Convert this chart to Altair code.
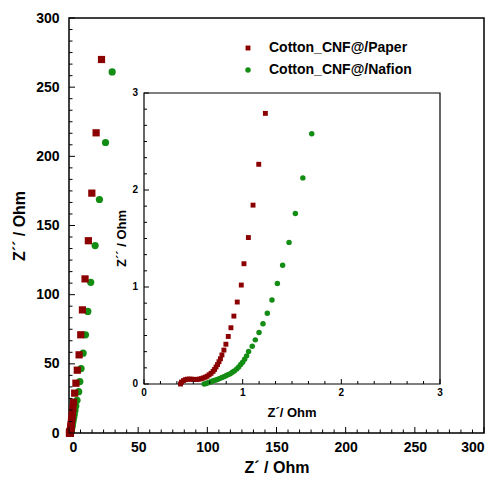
import altair as alt
import pandas as pd

# ---------------- data ----------------
series_names = ["Cotton_CNF@/Paper", "Cotton_CNF@/Nafion"]
series_colors = ["#8b0000", "#138d13"]
series_shapes = ["square", "circle"]

paper_zr = [0.37, 0.38, 0.40, 0.42, 0.44, 0.46, 0.48, 0.50, 0.52, 0.54,
            0.56, 0.58, 0.60, 0.62, 0.64, 0.66, 0.68, 0.70, 0.715, 0.73,
            0.745, 0.76, 0.775, 0.79, 0.81, 0.83, 0.854, 0.881, 0.911, 0.945,
            0.986, 1.013, 1.058, 1.105, 1.163, 1.23, 1.28, 1.36, 1.47, 1.60,
            1.77, 1.97, 2.20, 2.50, 2.85, 3.30, 4.1, 5.0, 6.0, 7.3,
            8.5, 9.7, 11.6, 14.0, 16.5, 19.6, 23.5]
paper_zi = [0.0, 0.02, 0.035, 0.045, 0.05, 0.05, 0.05, 0.048, 0.047, 0.048,
            0.05, 0.055, 0.062, 0.07, 0.08, 0.095, 0.11, 0.13, 0.15, 0.175,
            0.2, 0.23, 0.26, 0.30, 0.35, 0.41, 0.49, 0.58, 0.70, 0.845,
            1.02, 1.24, 1.51, 1.844, 2.265, 2.79, 3.43, 4.2, 5.2, 6.4,
            7.9, 9.7, 11.9, 14.7, 18.0, 22.2, 28.8, 36.0, 45.4, 56.5,
            71.0, 89.0, 111.4, 139.0, 173.4, 217.0, 270.0]

nafion_zr = [0.61, 0.63, 0.65, 0.67, 0.69, 0.71, 0.73, 0.75, 0.77, 0.79,
             0.81, 0.83, 0.85, 0.874, 0.895, 0.915, 0.94, 0.96, 0.98, 1.00,
             1.02, 1.04, 1.06, 1.097, 1.128, 1.166, 1.206, 1.25, 1.297, 1.352,
             1.405, 1.47, 1.534, 1.61, 1.70, 1.80, 1.93, 2.07, 2.25, 2.45,
             2.70, 3.0, 3.4, 3.8, 4.3, 4.9, 5.8, 7.0, 7.8, 8.7,
             10.2, 11.9, 13.6, 15.7, 18.9, 22.0, 26.4, 31.2]
nafion_zi = [0.0, 0.005, 0.012, 0.02, 0.028, 0.035, 0.042, 0.05, 0.058, 0.067,
             0.076, 0.085, 0.095, 0.105, 0.12, 0.135, 0.155, 0.175, 0.2, 0.225,
             0.255, 0.29, 0.335, 0.39, 0.455, 0.53, 0.62, 0.73, 0.865, 1.037,
             1.225, 1.46, 1.757, 2.125, 2.58, 3.1, 3.75, 4.5, 5.4, 6.5,
             7.8, 9.4, 11.3, 13.6, 16.3, 19.6, 23.6, 29.9, 37.2, 46.6,
             57.7, 71.0, 87.9, 108.9, 135.5, 168.8, 210.0, 261.0]

main_major = [0, 50, 100, 150, 200, 250, 300]
main_minor = [m + k * 50 / 6 for m in main_major[:-1] for k in range(1, 6)]
inset_major = [0, 1, 2, 3]
inset_minor = [m + k / 6 for m in inset_major[:-1] for k in range(1, 6)]

# ---------------- layout constants ----------------
FONT = "Liberation Sans"
W = H = 415
IL, IR, IT, IB = 75, 371, 75, 366   # inset box inside the main plot (px)
IMAX = 3.0

ppx = (IR - IL) / IMAX
ppy = (IB - IT) / IMAX
inset_xdom = [-IL / ppx, IMAX + (W - IR) / ppx]
inset_ydom = [-(H - IB) / ppy, IMAX + IT / ppy]

df = pd.concat([
    pd.DataFrame({"zr": nafion_zr, "zi": nafion_zi, "series": series_names[1]}),
    pd.DataFrame({"zr": paper_zr, "zi": paper_zi, "series": series_names[0]}),
], ignore_index=True)

main_x = alt.Scale(domain=[0, 300], nice=False, zero=False)
main_y = alt.Scale(domain=[0, 300], nice=False, zero=False)
ins_x = alt.Scale(domain=inset_xdom, nice=False, zero=False)
ins_y = alt.Scale(domain=inset_ydom, nice=False, zero=False)

leg = alt.Legend(title=None, orient="none", legendX=172, legendY=23,
                 labelFont=FONT, labelFontWeight="bold", labelFontSize=14,
                 labelColor="black", symbolSize=60, labelOffset=14,
                 rowPadding=8, padding=0, symbolStrokeWidth=0)
color = alt.Color("series:N", scale=alt.Scale(domain=series_names, range=series_colors), legend=leg)
shape = alt.Shape("series:N", scale=alt.Scale(domain=series_names, range=series_shapes), legend=leg)

axis_common = dict(ticks=False, tickSize=0, domain=False, grid=False,
                   labelFont=FONT, labelFontWeight="bold", labelFontSize=14,
                   labelColor="black", titleFont=FONT, titleFontWeight="bold",
                   titleFontSize=16, titleColor="black")
x_axis = alt.Axis(values=main_major, title="Z´ / Ohm", labelPadding=7,
                  titlePadding=5, **axis_common)
y_axis = alt.Axis(values=main_major, title="Z´´ / Ohm", labelPadding=10,
                  titlePadding=8, **axis_common)

base = alt.Chart(df)

main_pts = base.mark_point(filled=True, size=52, opacity=1).encode(
    x=alt.X("zr:Q", scale=main_x, axis=x_axis, title="Z´ / Ohm"),
    y=alt.Y("zi:Q", scale=main_y, axis=y_axis, title="Z´´ / Ohm"),
    color=color, shape=shape,
)

def xticks(vals, scale, ypix, length, axis=None, title=None):
    enc_x = alt.X("v:Q", scale=scale, axis=axis, title=title) if axis is not None else alt.X("v:Q", scale=scale, axis=None)
    return alt.Chart(pd.DataFrame({"v": vals})).mark_rule(color="black", strokeWidth=1).encode(
        x=enc_x, y=alt.value(ypix), y2=alt.value(ypix - length))

def yticks(vals, scale, xpix, length, axis=None, title=None):
    enc_y = alt.Y("v:Q", scale=scale, axis=axis, title=title) if axis is not None else alt.Y("v:Q", scale=scale, axis=None)
    return alt.Chart(pd.DataFrame({"v": vals})).mark_rule(color="black", strokeWidth=1).encode(
        y=enc_y, x=alt.value(xpix), x2=alt.value(xpix + length))

main_layer = alt.layer(
    main_pts,
    xticks(main_major, main_x, H, 6, x_axis, "Z´ / Ohm"),
    xticks(main_minor, main_x, H, 3.5, x_axis, "Z´ / Ohm"),
    yticks(main_major, main_y, 0, 6, y_axis, "Z´´ / Ohm"),
    yticks(main_minor, main_y, 0, 3.5, y_axis, "Z´´ / Ohm"),
)

# ---------------- inset ----------------
frame = alt.Chart(pd.DataFrame({"a": [0.0], "b": [IMAX]})).mark_rect(
    fill="white", stroke="black", strokeWidth=1.2).encode(
    x=alt.X("a:Q", scale=ins_x, axis=None), x2="b:Q",
    y=alt.Y("a:Q", scale=ins_y, axis=None), y2="b:Q")

ins_pts = base.transform_filter(
    (alt.datum.zi <= IMAX) & (alt.datum.zr <= IMAX)
).mark_point(filled=True, opacity=1).encode(
    x=alt.X("zr:Q", scale=ins_x, axis=None),
    y=alt.Y("zi:Q", scale=ins_y, axis=None),
    color=color, shape=shape,
    size=alt.Size("series:N", scale=alt.Scale(domain=series_names, range=[24, 30]), legend=None),
)

lab_df = pd.DataFrame({"v": inset_major, "t": [str(v) for v in inset_major]})
ins_xlab = alt.Chart(lab_df).mark_text(font=FONT, fontWeight="bold", fontSize=10,
                                       baseline="middle", color="black").encode(
    x=alt.X("v:Q", scale=ins_x, axis=None), y=alt.value(IB + 9), text="t:N")
ins_ylab = alt.Chart(lab_df).mark_text(font=FONT, fontWeight="bold", fontSize=10,
                                       baseline="middle", align="right", color="black").encode(
    y=alt.Y("v:Q", scale=ins_y, axis=None), x=alt.value(IL - 6), text="t:N")

one = pd.DataFrame({"t": ["Z´/ Ohm"]})
ins_xtitle = alt.Chart(one).mark_text(font=FONT, fontWeight="bold", fontSize=13,
                                      baseline="middle", color="black").encode(
    x=alt.value((IL + IR) / 2), y=alt.value(IB + 29), text="t:N")
one2 = pd.DataFrame({"t": ["Z´´ / Ohm"]})
ins_ytitle = alt.Chart(one2).mark_text(font=FONT, fontWeight="bold", fontSize=13,
                                       baseline="middle", angle=270, color="black").encode(
    x=alt.value(IL - 22), y=alt.value((IT + IB) / 2), text="t:N")

inset_layer = alt.layer(
    frame, ins_pts,
    xticks(inset_major, ins_x, IB, 5), xticks(inset_minor, ins_x, IB, 3),
    yticks(inset_major, ins_y, IL, 5), yticks(inset_minor, ins_y, IL, 3),
    ins_xlab, ins_ylab, ins_xtitle, ins_ytitle,
)

chart = alt.layer(main_layer, inset_layer).resolve_scale(
    x="independent", y="independent"
).properties(
    width=W, height=H,
    autosize=alt.AutoSizeParams(type="none"),
    padding={"left": 61, "top": 10, "right": 4, "bottom": 46},
).configure_view(stroke="black", strokeWidth=1.5)

chart.save("out.html", embed_options={"renderer": "svg", "actions": False})
